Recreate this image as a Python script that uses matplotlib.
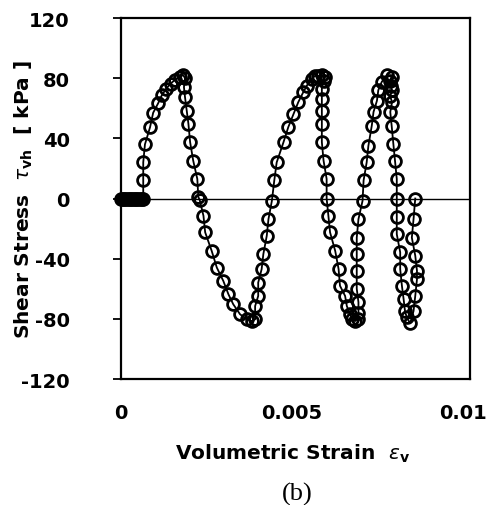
import matplotlib
matplotlib.use("Agg")
import matplotlib.pyplot as plt
import numpy as np

# Volumetric strain (x 1e-3) and shear stress (kPa) in path order
strain_e3 = [
    0.0, 0.05, 0.10, 0.15, 0.20, 0.25, 0.30, 0.35, 0.40, 0.45, 0.50, 0.55, 0.60,
    0.65, 0.65, 0.65, 0.70, 0.85, 0.94, 1.09, 1.19, 1.32, 1.45, 1.58, 1.73, 1.82,
    1.87, 1.84, 1.87, 1.92, 1.97, 2.02, 2.11, 2.23, 2.26, 2.30,
    2.41, 2.46, 2.65, 2.80, 2.99, 3.14, 3.28, 3.48, 3.68, 3.82, 3.92,
    3.92, 4.01, 4.01, 4.11, 4.16, 4.26, 4.31, 4.41, 4.48, 4.55, 4.75, 4.89, 5.04,
    5.18, 5.33, 5.43, 5.58, 5.67, 5.77, 5.87, 5.96,
    5.92, 5.87, 5.87, 5.87, 5.87, 5.87, 5.92, 6.01, 6.01,
    6.06, 6.11, 6.26, 6.36, 6.40, 6.55, 6.60, 6.70, 6.75, 6.84, 6.92,
    6.94, 6.94, 6.89, 6.89, 6.89, 6.89, 6.94, 7.06,
    7.09, 7.18, 7.23, 7.33, 7.38, 7.48, 7.52, 7.62, 7.77, 7.91,
    7.85, 7.88, 7.92, 7.87, 7.92, 7.87, 7.91, 7.96, 8.01, 8.06, 8.06,
    8.06, 8.06, 8.16, 8.16, 8.21, 8.26, 8.30, 8.35, 8.45,
    8.55, 8.60, 8.65, 8.65, 8.60, 8.50, 8.55, 8.60,
]
shear_kpa = [
    0, 0, 0, 0, 0, 0, 0, 0, 0, 0, 0, 0, 0,
    0, 12, 24, 36, 47.5, 57, 63.5, 68.5, 73, 76.3, 79, 81, 82,
    80, 74, 67.5, 58.5, 49.7, 37.5, 25.2, 13, 1, -1,
    -11.5, -22.5, -34.8, -45.9, -54.8, -63.7, -70.3, -77, -80.3, -81.5, -80.3,
    -71.5, -64.8, -55.9, -47, -37, -24.8, -13.7, -1.5, 12, 24, 37.5, 47.5, 56,
    64, 70.8, 75, 79.7, 81.5, 81.5, 82, 80.8,
    78, 73, 66, 58.5, 49.7, 37.5, 25.2, 13, 0,
    -11.5, -22.5, -34.8, -47, -58, -64.8, -71.5, -77, -80, -81.5, -80,
    -76, -69, -60, -48, -37, -26, -13.7, -1.5,
    12, 24, 35, 48.5, 57.5, 65, 72, 77.5, 82, 81,
    78, 75, 72, 68, 64, 57.5, 48.5, 36.3, 25, 13, 0,
    -12.5, -23.7, -35.8, -47, -58, -67, -74.8, -79, -83,
    -74.8, -64.8, -53.7, -48, -38, -26, -13.7, 0,
]

x_ticks = [0, 0.005, 0.01]
x_tick_labels = ["0", "0.005", "0.01"]
y_ticks = [-120, -80, -40, 0, 40, 80, 120]

plt.rcParams['mathtext.fontset'] = 'dejavusans'
plt.rcParams['axes.unicode_minus'] = False

fig = plt.figure(figsize=(4.93, 5.06), dpi=100)
ax = fig.add_axes([121/493, 1 - 380/506, 349/493, 361/506])

x = np.array(strain_e3) * 1e-3
y = np.array(shear_kpa)

ax.axhline(0, color='black', lw=1.0, zorder=1)
ax.plot(x, y, color='black', lw=1.3, marker='o', markersize=8.5,
        markerfacecolor='none', markeredgecolor='black', markeredgewidth=2.0,
        zorder=3, clip_on=False)

ax.set_xlim(0, 0.0102)
ax.set_ylim(-120, 120)
ax.set_xticks(x_ticks)
ax.set_xticklabels(x_tick_labels)
ax.set_yticks(y_ticks)

for s in ax.spines.values():
    s.set_linewidth(1.6)

ax.tick_params(axis='x', length=0, pad=17, labelsize=14)
ax.tick_params(axis='y', direction='out', length=6, width=1.3, pad=31, labelsize=14)
for lab in ax.get_xticklabels() + ax.get_yticklabels():
    lab.set_fontweight('bold')
    lab.set_family('DejaVu Sans')

ax.set_xlabel(r'Volumetric Strain  $\varepsilon_{\mathbf{v}}$', fontsize=14.5,
              fontweight='bold', family='DejaVu Sans')
ax.xaxis.set_label_coords(0.493, -0.175)
ax.set_ylabel(r'Shear Stress  $\tau_{\mathbf{vh}}$  [ kPa ]', fontsize=14.5,
              fontweight='bold', family='DejaVu Sans')
ax.yaxis.set_label_coords(-0.245, 0.5)

fig.text(297/493, 1 - 494/506, '(b)', ha='center', va='center',
         family='Liberation Serif', fontsize=19)

fig.savefig('out.png', dpi=100)
